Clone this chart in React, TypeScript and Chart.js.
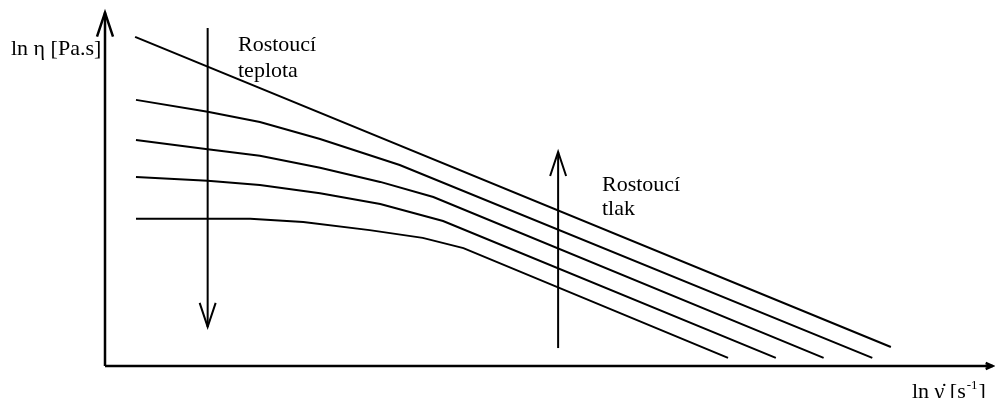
import { useEffect, useRef } from "react";
import { Chart, registerables } from "chart.js";

Chart.register(...registerables);

// Flow curves, ln(shear rate) vs ln(viscosity), arbitrary log units
const lnRateA = [0.34, 8.88];
const lnViscA = [9.35, 0.54];

const lnRateB = [0.35, 1.16, 1.75, 2.43, 2.88, 3.33, 8.67];
const lnViscB = [7.56, 7.22, 6.93, 6.45, 6.08, 5.71, 0.23];

const lnRateC = [0.35, 1.16, 1.75, 2.43, 3.11, 3.71, 8.12];
const lnViscC = [6.42, 6.16, 5.97, 5.63, 5.23, 4.8, 0.23];

const lnRateD = [0.35, 1.16, 1.75, 2.43, 3.11, 3.82, 7.58];
const lnViscD = [5.37, 5.26, 5.14, 4.91, 4.6, 4.12, 0.23];

const lnRateE = [0.35, 1.64, 2.24, 2.99, 3.59, 4.05, 7.04];
const lnViscE = [4.18, 4.18, 4.09, 3.86, 3.64, 3.35, 0.23];

// Trend arrows (temperature rising: down, pressure rising: up)
const tempArrowX = [1.16, 1.16];
const tempArrowY = [9.6, 1.11];
const pressArrowX = [5.12, 5.12];
const pressArrowY = [0.51, 6.08];

// Axis extents
const axisXEnd = 10.03;
const axisYEnd = 10.04;

const yTitle = "ln η [Pa.s]";
const xTitleMain = "ln γ̇ [s";
const xTitleSup = "-1";
const xTitleClose = "]";
const tempLabel = ["Rostoucí", "teplota"];
const pressLabel = ["Rostoucí", "tlak"];

const toPoints = (xs: number[], ys: number[]) => xs.map((x, i) => ({ x, y: ys[i] }));

function drawHead(
  ctx: CanvasRenderingContext2D,
  x0: number,
  y0: number,
  x1: number,
  y1: number,
  len: number,
  half: number
) {
  const dx = x1 - x0;
  const dy = y1 - y0;
  const d = Math.hypot(dx, dy) || 1;
  const ux = dx / d;
  const uy = dy / d;
  const bx = x1 - ux * len;
  const by = y1 - uy * len;
  ctx.beginPath();
  ctx.moveTo(bx - uy * half, by + ux * half);
  ctx.lineTo(x1, y1);
  ctx.lineTo(bx + uy * half, by - ux * half);
  ctx.stroke();
}

const diagramPlugin = {
  id: "diagramDecor",
  afterDatasetsDraw(chart: Chart) {
    const ctx = chart.ctx;
    const xs = chart.scales.x;
    const ys = chart.scales.y;
    const px = (v: number) => xs.getPixelForValue(v);
    const py = (v: number) => ys.getPixelForValue(v);
    ctx.save();
    ctx.strokeStyle = "#000";
    ctx.fillStyle = "#000";
    ctx.lineCap = "butt";
    ctx.lineJoin = "miter";

    // axes
    ctx.lineWidth = 2.5;
    ctx.beginPath();
    ctx.moveTo(px(0), py(0));
    ctx.lineTo(px(0), py(axisYEnd));
    ctx.moveTo(px(0), py(0));
    ctx.lineTo(px(axisXEnd), py(0));
    ctx.stroke();
    drawHead(ctx, px(0), py(0), px(0), py(axisYEnd), 24, 8);
    drawHead(ctx, px(0), py(0), px(axisXEnd), py(0), 7, 3);

    // arrowheads on the trend arrows
    ctx.lineWidth = 2;
    drawHead(ctx, px(tempArrowX[0]), py(tempArrowY[0]), px(tempArrowX[1]), py(tempArrowY[1]), 24, 8);
    drawHead(ctx, px(pressArrowX[0]), py(pressArrowY[0]), px(pressArrowX[1]), py(pressArrowY[1]), 24, 8);

    // text
    ctx.font = '22px "Liberation Serif", "Times New Roman", serif';
    ctx.textBaseline = "alphabetic";
    ctx.textAlign = "left";
    ctx.fillText(yTitle, 11, 55);
    ctx.fillText(tempLabel[0], 238, 51);
    ctx.fillText(tempLabel[1], 238, 77);
    ctx.fillText(pressLabel[0], 602, 191);
    ctx.fillText(pressLabel[1], 602, 215);

    let tx = 912;
    const tb = 398;
    ctx.fillText(xTitleMain, tx, tb);
    tx += ctx.measureText(xTitleMain).width;
    ctx.font = '13px "Liberation Serif", "Times New Roman", serif';
    ctx.fillText(xTitleSup, tx + 1, tb - 9);
    tx += ctx.measureText(xTitleSup).width + 2;
    ctx.font = '22px "Liberation Serif", "Times New Roman", serif';
    ctx.fillText(xTitleClose, tx, tb);
    ctx.restore();
  },
};

export default function App() {
  const canvasRef = useRef<HTMLCanvasElement | null>(null);

  useEffect(() => {
    if (!canvasRef.current) return;
    const line = (xs: number[], ys: number[], w = 2) => ({
      data: toPoints(xs, ys),
      borderColor: "#000",
      borderWidth: w,
      pointRadius: 0,
      tension: 0,
      fill: false,
      clip: false as const,
    });
    const chart = new Chart(canvasRef.current, {
      type: "line",
      data: {
        datasets: [
          line(lnRateA, lnViscA),
          line(lnRateB, lnViscB),
          line(lnRateC, lnViscC),
          line(lnRateD, lnViscD),
          line(lnRateE, lnViscE),
          line(tempArrowX, tempArrowY),
          line(pressArrowX, pressArrowY),
        ],
      },
      options: {
        responsive: false,
        animation: false,
        devicePixelRatio: 1,
        layout: { padding: { left: 105, right: 5, top: 14, bottom: 32 } },
        scales: {
          x: { type: "linear", min: 0, max: 10, display: false },
          y: { type: "linear", min: 0, max: 10, display: false },
        },
        plugins: {
          legend: { display: false },
          tooltip: { enabled: false },
        },
      },
      plugins: [diagramPlugin],
    });
    return () => chart.destroy();
  }, []);

  return (
    <div style={{ position: "fixed", left: 0, top: 0, width: 995, height: 398, background: "#fff" }}>
      <canvas ref={canvasRef} width={995} height={398} />
    </div>
  );
}
